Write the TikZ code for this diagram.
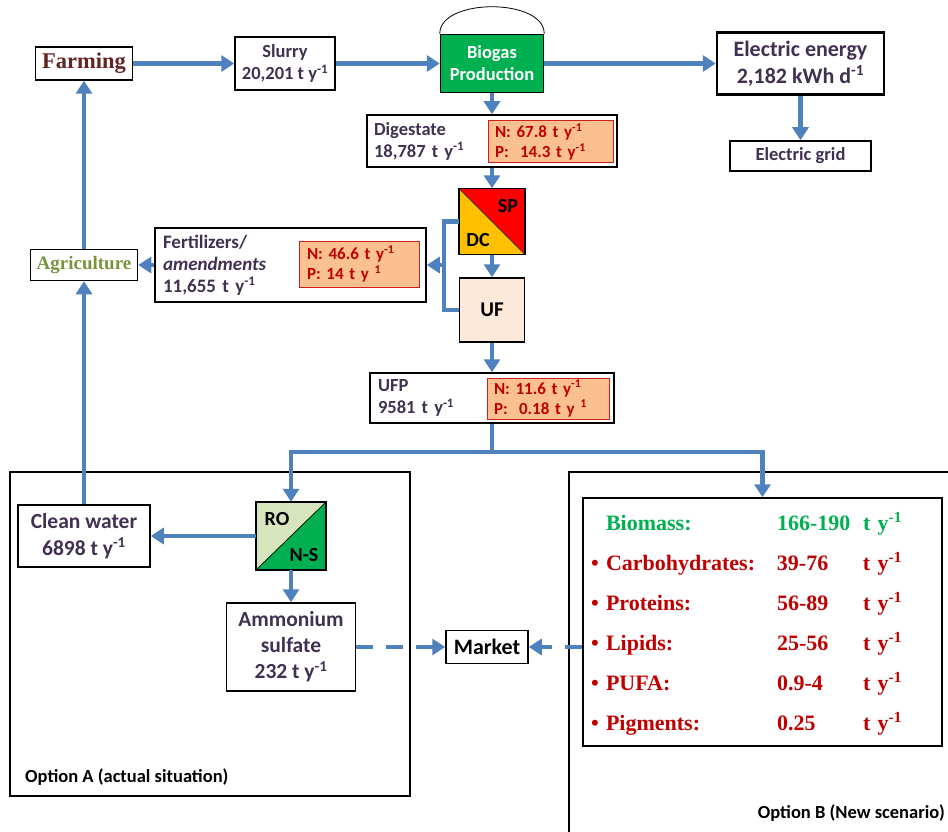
\documentclass[tikz,border=0pt]{standalone}
\usepackage{fontspec}
\setmainfont{Carlito}
\newfontfamily\timesfont{Liberation Serif}
\usetikzlibrary{arrows.meta}

\definecolor{flowblue}{RGB}{79,129,189}
\definecolor{txtpurple}{RGB}{64,49,82}
\definecolor{npred}{RGB}{192,0,0}
\definecolor{npfill}{RGB}{250,192,144}
\definecolor{npframe}{RGB}{210,30,30}
\definecolor{biogreen}{RGB}{0,176,80}
\definecolor{spred}{RGB}{255,0,0}
\definecolor{dcyellow}{RGB}{255,192,0}
\definecolor{uffill}{RGB}{253,233,217}
\definecolor{rofill}{RGB}{215,228,189}
\definecolor{farmred}{RGB}{99,37,35}
\definecolor{agrigreen}{RGB}{119,147,60}

\newcommand{\setfs}[2]{\fontsize{#1}{#2}\selectfont}
\newcommand{\tyr}{t y\textsuperscript{-1}}

\tikzset{
  box/.style={rectangle, draw, line width=1.5pt, inner sep=0pt, align=center, text=txtpurple, font=\bfseries\setfs{18.5}{22}},
  npbox/.style={rectangle, draw=npframe, fill=npfill, line width=1pt, inner sep=0pt, align=left, text=npred, font=\bfseries\setfs{17}{20}},
  flow/.style={draw=flowblue, line width=4.5pt},
  arrow/.style={flow, -{Triangle[length=13pt,width=16pt]}},
  dasharrow/.style={arrow, dash pattern=on 17pt off 13pt},
  frame/.style={draw, line width=1.5pt},
  tag/.style={inner sep=0pt, text=black, font=\bfseries\setfs{20}{22}},
}

\begin{document}
\begin{tikzpicture}[x=1pt, y=-1pt]
\useasboundingbox (0,0) rectangle (948,832);

% option frames
\draw[frame] (10,472) rectangle (410,796);
\draw[frame] (948,472) -| (569,832);
\node at (25,777) [anchor=west, tag, font=\bfseries\setfs{18.5}{20}] (optA) {Option A (actual situation)};
\node at (945,813) [anchor=east, tag, font=\bfseries\setfs{18.5}{20}] (optB) {Option B (New scenario)};

% top row
\node at (84,63.5) [box, minimum width=97, minimum height=33, text=farmred, font=\timesfont\bfseries\setfs{22.5}{24}] (farming) {Farming};
\node at (285,63.5) [box, minimum width=100, minimum height=53] (slurry) {Slurry\\20,201 \tyr};
\node at (492,63.5) [box, fill=biogreen, minimum width=103, minimum height=58, text=white] (biogas) {Biogas\\Production};
\draw[line width=0.8pt] (biogas.north west) .. controls +(0,-36) and +(0,-36) .. (biogas.north east);
\node at (800.5,63.5) [box, line width=2.5pt, minimum width=167, minimum height=62, font=\bfseries\setfs{22}{27}] (elec) {Electric energy\\2,182 kWh d\textsuperscript{-1}};
\node at (800.5,156) [box, minimum width=141, minimum height=30] (grid) {Electric grid};

% digestate and separation
\node at (492,141) [box, minimum width=250, minimum height=52, text width=236, align=left] (digestate) {Digestate\\18,787 \tyr};
\node at (550.5,142) [npbox, minimum width=125, minimum height=42, text width=111] (dignp) {N: 67.8 \tyr\\P:\ \ 14.3 \tyr};

\node at (492,221.5) [minimum size=66] (spdc) {};
\fill[spred] (spdc.north west) -- (spdc.north east) -- (spdc.south east) -- cycle;
\fill[dcyellow] (spdc.north west) -- (spdc.south west) -- (spdc.south east) -- cycle;
\draw[line width=0.7pt] (spdc.north west) -- (spdc.south east);
\draw[frame] (spdc.north west) rectangle (spdc.south east);
\node at (508,206) [tag] (sp) {SP};
\node at (478,240) [tag] (dc) {DC};

\node at (492,310) [box, fill=uffill, minimum width=65, minimum height=64, text=black, font=\bfseries\setfs{21}{24}] (uf) {UF};

\node at (290.5,265) [box, minimum width=271, minimum height=74, text width=255, align=left, font=\bfseries\setfs{19}{22}] (fert) {Fertilizers/\\\textit{amendments}\\11,655 \tyr};
\node at (359,264) [npbox, minimum width=120, minimum height=46, text width=104] (fertnp) {N: 46.6 \tyr\\P: 14 t y \textsuperscript{1}};
\node at (84,265) [box, minimum width=107, minimum height=31, text=agrigreen, font=\timesfont\bfseries\setfs{19}{20}] (agri) {Agriculture};

\node at (492,398) [box, minimum width=244, minimum height=50, text width=228, align=left] (ufp) {UFP\\9581 \tyr};
\node at (548,398.5) [npbox, minimum width=122, minimum height=41, text width=108] (ufpnp) {N: 11.6 \tyr\\P:\ \ 0.18 t y \textsuperscript{1}};

% option A
\node at (291,536) [minimum width=70, minimum height=68] (ro) {};
\fill[rofill] (ro.north west) -- (ro.north east) -- (ro.south west) -- cycle;
\fill[biogreen] (ro.north east) -- (ro.south east) -- (ro.south west) -- cycle;
\draw[line width=0.7pt] (ro.south west) -- (ro.north east);
\draw[frame] (ro.north west) rectangle (ro.south east);
\node at (277,519) [tag] (rolabel) {RO};
\node at (304,555) [tag] (nslabel) {N-S};

\node at (84,536) [box, minimum width=132, minimum height=62, font=\bfseries\setfs{21.5}{27}] (clean) {Clean water\\6898 \tyr};
\node at (291,647) [box, minimum width=129, minimum height=88, font=\bfseries\setfs{21.5}{26}] (amm) {Ammonium\\sulfate\\232 \tyr};
\node at (487,647) [box, text=black, minimum width=82, minimum height=33, font=\bfseries\setfs{22}{24}] (market) {Market};

% option B
\node at (762.5,622) [box, minimum width=359, minimum height=248, text width=343, align=left, text=npred, font=\timesfont\bfseries\setfs{22}{40}] (bio) {\noindent\begin{tabular}{@{}p{186pt}@{}p{86pt}@{}l@{}}
\textcolor{biogreen}{\phantom{\textbullet\ }Biomass:} & \textcolor{biogreen}{166-190} & \textcolor{biogreen}{\tyr}\\
\textbullet\ Carbohydrates: & 39-76 & \tyr\\
\textbullet\ Proteins: & 56-89 & \tyr\\
\textbullet\ Lipids: & 25-56 & \tyr\\
\textbullet\ PUFA: & 0.9-4 & \tyr\\
\textbullet\ Pigments: & 0.25 & \tyr
\end{tabular}};

% connectors
\draw[arrow] (farming.east) -- (slurry.west);
\draw[arrow] (slurry.east) -- (biogas.west);
\draw[arrow] (biogas.east) -- (elec.west);
\draw[arrow] (elec.south) -- (grid.north);
\draw[arrow] (biogas.south) -- (digestate.north);
\draw[arrow] (digestate.south) -- (spdc.north);
\draw[arrow] (spdc.south) -- (uf.north);
\draw[arrow] (uf.south) -- (ufp.north);
\coordinate (fork) at (444,265);
\draw[flow] (spdc.west) -| (fork) |- (uf.west);
\draw[arrow] (fork) -- (fert.east);
\draw[arrow] (fert.west) -- (agri.east);
\draw[arrow] (agri.north) -- (farming.south);
\coordinate (split) at (492,452);
\draw[flow] (ufp.south) -- (split);
\draw[arrow] (split) -| (ro.north);
\draw[arrow] (split) -| (bio.north);
\draw[arrow] (clean.north) -- (agri.south);
\draw[arrow] (ro.west) -- (clean.east);
\draw[arrow] (ro.south) -- (amm.north);
\draw[dasharrow] (amm.east) -- (market.west);
\draw[dasharrow] (bio.west |- market.east) -- (market.east);
\end{tikzpicture}
\end{document}
